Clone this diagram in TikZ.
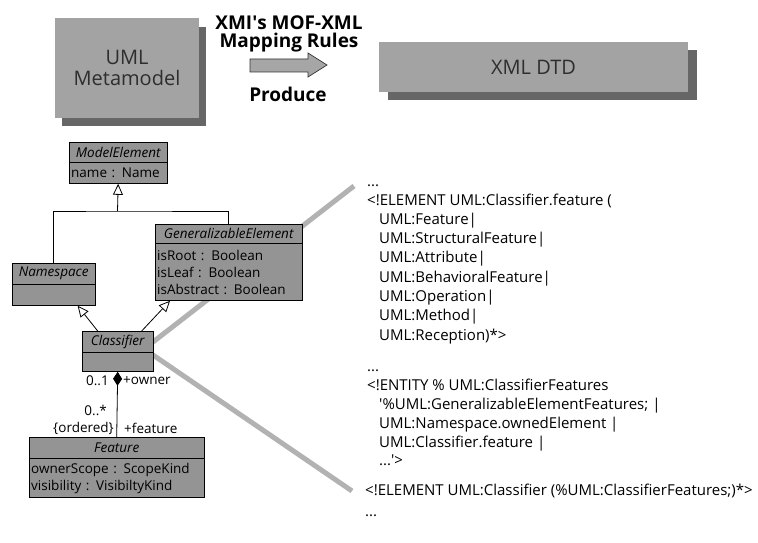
\documentclass[tikz,border=0pt]{standalone}
\usepackage{fontspec}
\setmainfont{Open Sans}
\usepackage{tikz}
\usetikzlibrary{arrows.meta,positioning,calc,shadows}

\definecolor{boxgray}{gray}{0.64}
\definecolor{shadowgray}{gray}{0.40}
\definecolor{umlgray}{gray}{0.58}
\definecolor{bandgray}{gray}{0.70}
\definecolor{inkgray}{gray}{0.18}

\begin{document}
\begin{tikzpicture}[x=1pt,y=-1pt,
	bigbox/.style={fill=boxgray,inner sep=0pt,text=inkgray,align=center,
		font=\fontsize{20}{21}\selectfont},
	umlhead/.style={draw,fill=umlgray,inner sep=0pt,anchor=north west,
		font=\fontsize{13.5}{16}\selectfont\itshape},
	umlbody/.style={draw,fill=umlgray,inner xsep=2pt,inner ysep=0pt,anchor=north west,
		align=left,font=\fontsize{13.5}{17}\selectfont},
	umllabel/.style={inner sep=0pt,font=\fontsize{13.5}{16}\selectfont},
	dtd/.style={inner sep=0pt,anchor=base west,font=\fontsize{15}{19}\selectfont},
	title/.style={inner sep=0pt,font=\fontsize{19}{20}\selectfont\bfseries},
	genline/.style={line width=0.8pt},
	genarrow/.style={line width=0.8pt,-{Triangle[open,fill=white,length=11pt,width=10pt]}},
	band/.style={line width=5pt,bandgray}]
	\useasboundingbox (0,0) rectangle (758,543);
	
	% top row
	\fill[shadowgray] (62,27) rectangle (206,126);
	\node[bigbox,minimum width=144,minimum height=99] (meta) at (127,68) {UML\\Metamodel};
	\fill[shadowgray] (388,50) rectangle (697,100);
	\node[bigbox,minimum width=309,minimum height=50] (dtdbox) at (533.5,67) {XML DTD};
	
	\node[title] (rules1) at (289,23) {XMI\textquotesingle s MOF-XML};
	\node[title] (rules2) at (289,43) {Mapping Rules};
	\node[title] (produce) at (288,94) {Produce};
	\filldraw[fill=gray!70,draw=black!80,line width=0.7pt]
		(250,59)--(308,59)--(308,53)--(327,65)--(308,77)--(308,72)--(250,72)--cycle;
	
	% mapping bands (behind the classes)
	\coordinate (bandTop) at (354,186);
	\coordinate (bandBot) at (352,491);
	\draw[band] (153,342) -- (bandTop);
	\draw[band] (153,355) -- (bandBot);
	
	% UML metamodel fragment
	\node[umlhead,minimum width=98,minimum height=20] (meHead) at (69,142) {ModelElement};
	\node[umlbody,text width=94,minimum height=21] (meBody) at (meHead.south west) {name : Name};
	
	\node[umlhead,minimum width=147,minimum height=19] (geHead) at (155,224) {GeneralizableElement};
	\node[umlbody,text width=143,minimum height=57] (geBody) at (geHead.south west)
		{isRoot : Boolean\\isLeaf : Boolean\\isAbstract : Boolean};
	
	\node[umlhead,minimum width=83,minimum height=21] (nsHead) at (12,263) {Namespace};
	\node[umlbody,text width=79,minimum height=21] (nsBody) at (nsHead.south west) {};
	
	\node[umlhead,minimum width=71,minimum height=21] (clsHead) at (82,331) {Classifier};
	\node[umlbody,text width=67,minimum height=19] (clsBody) at (clsHead.south west) {};
	
	\node[umlhead,minimum width=175,minimum height=21] (featHead) at (29,437) {Feature};
	\node[umlbody,text width=171,minimum height=39] (featBody) at (featHead.south west)
		{ownerScope : ScopeKind\\visibility : VisibiltyKind};
	
	% generalizations
	\coordinate (junc) at (117.5,211);
	\draw[genline] (nsHead.north) |- (junc) -| (geHead.north);
	\draw[genarrow] (junc) -- (meBody.south);
	\draw[genarrow] ($(clsHead.north)+(-20,0)$) -- ($(nsBody.south)+(24,0)$);
	\draw[genarrow] ($(clsHead.north)+(24,0)$) -- ($(geBody.south west)+(15,0)$);
	
	% composition
	\draw[line width=0.8pt,{Diamond[length=14pt,width=9pt]}-] (clsBody.south) -- (featHead.north);
	\node[umllabel,anchor=east] (m01) at (109,381) {0..1};
	\node[umllabel,anchor=west] (owner) at (123,381) {+owner};
	\node[umllabel,anchor=east] (m0n) at (107,410) {0..*};
	\node[umllabel,anchor=east] (ordered) at (114,428) {\{ordered\}};
	\node[umllabel,anchor=west] (feature) at (124,428) {+feature};
	
	% DTD text
	\node[dtd] (d1) at (367,186) {...};
	\node[dtd] (d2) at (367,205) {<!ELEMENT UML:Classifier.feature (};
	\node[dtd] (d3) at (379,224.3) {UML:Feature|};
	\node[dtd] (d4) at (379,243.6) {UML:StructuralFeature|};
	\node[dtd] (d5) at (379,262.9) {UML:Attribute|};
	\node[dtd] (d6) at (379,282.2) {UML:BehavioralFeature|};
	\node[dtd] (d7) at (379,301.5) {UML:Operation|};
	\node[dtd] (d8) at (379,320.8) {UML:Method|};
	\node[dtd] (d9) at (379,340.1) {UML:Reception)*>};
	
	\node[dtd] (e1) at (367,371) {...};
	\node[dtd] (e2) at (367,390) {<!ENTITY \% UML:ClassifierFeatures};
	\node[dtd] (e3) at (379,409) {\textquotesingle\%UML:GeneralizableElementFeatures; |};
	\node[dtd] (e4) at (379,428) {UML:Namespace.ownedElement |};
	\node[dtd] (e5) at (379,447) {UML:Classifier.feature |};
	\node[dtd] (e6) at (379,465) {...\textquotesingle>};
	
	\node[dtd] (f1) at (365,495) {<!ELEMENT UML:Classifier (\%UML:ClassifierFeatures;)*>};
	\node[dtd] (f2) at (365,516) {...};
\end{tikzpicture}
\end{document}
